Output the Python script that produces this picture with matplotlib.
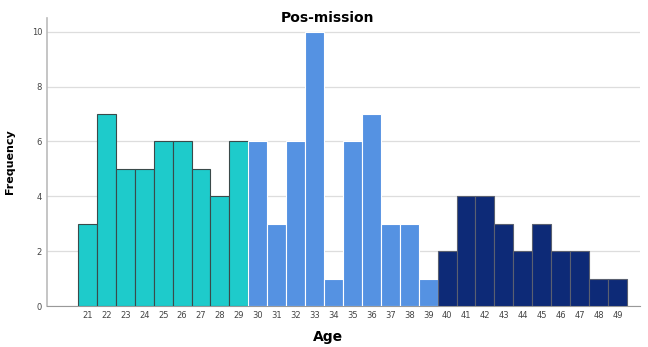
import numpy as np
import matplotlib.pyplot as plt

ages_a = [21, 22, 23, 24, 25, 26, 27, 28, 29]
freq_a = [3, 7, 5, 5, 6, 6, 5, 4, 6]
ages_b = [30, 31, 32, 33, 34, 35, 36, 37, 38, 39]
freq_b = [6, 3, 6, 10, 1, 6, 7, 3, 3, 1]
ages_c = [40, 41, 42, 43, 44, 45, 46, 47, 48, 49]
freq_c = [2, 4, 4, 3, 2, 3, 2, 2, 1, 1]

fig = plt.figure(figsize=(6.48, 3.47), dpi=100)
ax = fig.add_axes([0.0725, 0.118, 0.915, 0.83])

ax.bar(ages_a, freq_a, width=1, color="#1ECBCB", edgecolor="#3a4a4a", linewidth=0.8, zorder=3)
ax.bar(ages_b, freq_b, width=1, color="#5592E2", edgecolor="white", linewidth=0.8, zorder=3)
ax.bar(ages_c, freq_c, width=1, color="#0D2A77", edgecolor="#5a6070", linewidth=0.8, zorder=3)

ax.set_xlim(18.86, 50.19)
ax.set_ylim(0, 10.5)
ax.set_yticks([0, 2, 4, 6, 8, 10])
ax.set_xticks(ages_a + ages_b + ages_c)
ax.tick_params(axis="both", length=0, labelsize=6, labelcolor="#444444")
ax.grid(axis="y", color="#dddddd", linewidth=0.9, zorder=0)
for s in ["top", "right"]:
    ax.spines[s].set_visible(False)
ax.spines["left"].set_color("#bbbbbb")
ax.spines["bottom"].set_color("#999999")
ax.spines["left"].set_linewidth(1.2)

fig.text(0.506, 1 - 18 / 347, "Pos-mission", fontsize=10, fontweight="bold",
         ha="center", va="center")
fig.text(328 / 648, 1 - 330 / 347, "Age", fontsize=10, fontweight="bold",
         ha="center", va="top")
ax.set_ylabel("Frequency", fontsize=8, fontweight="bold", labelpad=12)

plt.savefig("out.png", dpi=100)
